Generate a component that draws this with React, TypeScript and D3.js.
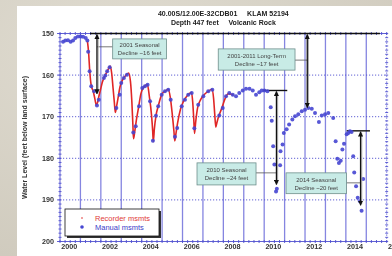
import * as d3 from "d3";
import { useEffect, useRef } from "react";

const titleLines = ["40.00S/12.00E-32CDB01     KLAM 52194", "Depth 447 feet     Volcanic Rock"];
const yAxisTitle = "Water Level (feet below land surface)";
const yearTicks = [2000, 2002, 2004, 2006, 2008, 2010, 2012, 2014, 2016];
const depthTicks = [150, 160, 170, 180, 190, 200];

// continuous recorder trace (year, feet below land surface)
const recorderSeries: [number, number][] = [
  [2001.34, 151.7], [2001.4, 154.5], [2001.46, 159.3], [2001.53, 162.5], [2001.62, 163.8], [2001.7, 165.5],
  [2001.78, 167.2], [2001.84, 166.6], [2001.9, 165.2], [2001.98, 163.6], [2002.08, 161.6], [2002.16, 160.6],
  [2002.26, 159.6], [2002.36, 158.6], [2002.46, 157.8], [2002.53, 159.5], [2002.6, 163.2], [2002.66, 166.5],
  [2002.71, 169.0], [2002.76, 167.8], [2002.84, 165.6], [2002.94, 162.8], [2003.06, 161.2], [2003.2, 160.2],
  [2003.36, 159.5], [2003.45, 161.5], [2003.52, 166.5], [2003.57, 172.0], [2003.6, 175.3], [2003.66, 173.6],
  [2003.74, 170.8], [2003.84, 168.0], [2003.96, 164.5], [2004.1, 162.9], [2004.28, 162.3], [2004.38, 165.3],
  [2004.48, 169.5], [2004.54, 173.5], [2004.57, 176.0], [2004.62, 173.0], [2004.7, 169.8], [2004.82, 167.3],
  [2004.98, 164.7], [2005.14, 163.9], [2005.3, 163.4], [2005.4, 165.3], [2005.5, 169.5], [2005.58, 173.5],
  [2005.62, 175.8], [2005.68, 174.0], [2005.76, 171.5], [2005.9, 168.2], [2006.06, 166.2], [2006.24, 164.9],
  [2006.44, 164.2], [2006.5, 166.5], [2006.55, 170.5], [2006.59, 174.0], [2006.64, 171.5], [2006.74, 167.8],
  [2006.9, 165.8], [2007.08, 164.6], [2007.26, 163.9], [2007.44, 163.4], [2007.52, 165.5], [2007.58, 169.5],
  [2007.63, 172.5], [2007.68, 171.5], [2007.78, 169.8], [2007.92, 168.0], [2008.08, 165.7], [2008.24, 164.5],
  [2008.4, 164.6], [2008.5, 164.9],
];

// periodic hand measurements
const manualSeries: [number, number][] = [
  [2000.15, 152.0], [2000.26, 151.7], [2000.39, 151.6], [2000.52, 152.0], [2000.64, 151.7], [2000.75, 151.1],
  [2000.88, 150.7], [2001.01, 150.7], [2001.13, 150.8], [2001.26, 151.1], [2001.34, 151.7],
  [2001.38, 154.4], [2001.45, 159.1], [2001.53, 162.7], [2001.67, 163.9], [2001.81, 167.3], [2001.9, 165.9],
  [2002.15, 160.7], [2002.22, 160.1], [2002.31, 159.1], [2002.43, 158.1], [2002.76, 167.9], [2002.92, 164.7],
  [2003.0, 161.9], [2003.13, 160.7], [2003.28, 159.9], [2003.59, 173.8], [2003.71, 172.3], [2003.87, 167.5],
  [2004.03, 163.1], [2004.16, 162.7], [2004.29, 162.3], [2004.41, 166.3], [2004.55, 175.8], [2004.7, 169.8],
  [2004.81, 167.5], [2004.98, 164.7], [2005.14, 163.9], [2005.3, 163.5], [2005.42, 165.9], [2005.63, 174.8],
  [2005.74, 172.7], [2005.96, 167.5], [2006.12, 165.9], [2006.28, 164.7], [2006.45, 164.3], [2006.58, 172.8],
  [2006.77, 167.1], [2007.02, 165.1], [2007.26, 163.9], [2007.46, 163.5], [2007.8, 169.7], [2007.97, 167.9],
  [2008.13, 165.1], [2008.29, 164.3], [2008.46, 164.7], [2008.62, 165.1], [2008.78, 164.3], [2008.95, 163.7],
  [2009.11, 163.3], [2009.28, 163.3], [2009.44, 163.7], [2009.6, 164.7], [2009.76, 164.1], [2009.88, 163.7],
  [2010.01, 163.7], [2010.16, 163.9], [2010.32, 167.7], [2010.37, 171.0], [2010.44, 177.1], [2010.5, 181.5],
  [2010.58, 188.0], [2010.62, 187.3], [2010.78, 181.7], [2010.8, 178.3], [2010.9, 176.7], [2010.96, 173.9],
  [2011.1, 173.0], [2011.22, 171.9], [2011.38, 170.7], [2011.51, 169.9], [2011.67, 169.4], [2011.84, 168.7],
  [2012.0, 168.3], [2012.16, 167.9], [2012.33, 168.1], [2012.49, 169.1], [2012.68, 171.3], [2012.82, 169.7],
  [2012.98, 169.4], [2013.14, 169.1], [2013.38, 170.3], [2013.5, 175.9], [2013.58, 180.1], [2013.66, 181.1],
  [2013.75, 180.6], [2013.83, 177.9], [2013.91, 176.5], [2014.04, 174.2], [2014.12, 173.9], [2014.2, 173.5],
  [2014.28, 173.7], [2014.36, 179.5], [2014.41, 183.4], [2014.5, 186.7], [2014.58, 189.5], [2014.69, 190.3],
  [2014.77, 192.6], [2014.85, 185.0],
];

const legendLabels = ["Recorder msmts", "Manual msmts"];

// reference levels the decline arrows start from
const baseLevels = [
  { from: 2001.47, to: 2015.67, ft: 150 },
  { from: 2009.94, to: 2011.13, ft: 163.7 },
  { from: 2014.04, to: 2015.18, ft: 173.4 },
];

const declineNotes = [
  { lines: ["2001 Seasonal", "Decline ~16 feet"], year: 2001.81, top: 150, bottom: 164.5, box: [2002.58, 151.3, 2005.22, 156.1], linkFt: 153.2 },
  { lines: ["2001-2011 Long-Term", "Decline ~17 feet"], year: 2012.11, top: 150, bottom: 167.8, box: [2007.75, 153.7, 2011.51, 158.8], linkFt: 156.4 },
  { lines: ["2010 Seasonal", "Decline ~24 feet"], year: 2010.6, top: 163.7, bottom: 186.3, box: [2006.71, 181.1, 2009.6, 186.4], linkFt: 183.5 },
  { lines: ["2014 Seasonal", "Decline ~20 feet"], year: 2014.72, top: 173.4, bottom: 191.3, box: [2011.07, 183.5, 2014.03, 188.5], linkFt: 185.9 },
];

export default function App() {
  const svgRef = useRef<SVGSVGElement>(null);

  useEffect(() => {
    const svg = d3.select(svgRef.current);
    svg.selectAll("*").remove();

    const width = 392;
    const height = 256;
    const left = 60;
    const right = 386.7;
    const top = 33.5;
    const bottom = 241.5;
    const font = "'Liberation Sans', Arial, sans-serif";
    const axisBlue = "#4f4fcf";

    const x = d3.scaleLinear().domain([2000, 2016]).range([left, right]);
    const y = d3.scaleLinear().domain([150, 200]).range([top, bottom]);

    svg.attr("viewBox", `0 0 ${width} ${height}`);

    const defs = svg.append("defs");
    const grad = defs.append("radialGradient").attr("id", "stone").attr("cx", "30%").attr("cy", "20%").attr("r", "90%");
    grad.append("stop").attr("offset", "0%").attr("stop-color", "#e0dcd1");
    grad.append("stop").attr("offset", "100%").attr("stop-color", "#cfcabd");
    defs
      .append("marker")
      .attr("id", "head")
      .attr("viewBox", "0 0 10 10")
      .attr("refX", 9)
      .attr("refY", 5)
      .attr("markerWidth", 4)
      .attr("markerHeight", 4)
      .attr("orient", "auto-start-reverse")
      .append("path")
      .attr("d", "M0,0 L10,5 L0,10 Z")
      .attr("fill", "#111");

    svg.append("rect").attr("width", width).attr("height", height).attr("fill", "url(#stone)");
    svg.append("rect").attr("x", 17).attr("y", 6).attr("width", width - 17).attr("height", height - 6).attr("fill", "#fff");

    // title
    svg
      .append("g")
      .selectAll("text")
      .data(titleLines)
      .join("text")
      .attr("x", (left + right) / 2)
      .attr("y", (_, i) => 16 + i * 9)
      .attr("text-anchor", "middle")
      .attr("font-family", font)
      .attr("font-size", 7)
      .attr("font-weight", "bold")
      .attr("fill", "#222")
      .style("white-space", "pre")
      .text((d) => d);

    // yearly vertical grid
    svg
      .append("g")
      .selectAll("line")
      .data(d3.range(2001, 2016))
      .join("line")
      .attr("x1", (d) => x(d))
      .attr("x2", (d) => x(d))
      .attr("y1", top)
      .attr("y2", bottom)
      .attr("stroke", "#8585e0")
      .attr("stroke-width", 1.3);

    // dotted horizontal grid
    svg
      .append("g")
      .selectAll("line")
      .data(depthTicks.slice(1, -1))
      .join("line")
      .attr("x1", left)
      .attr("x2", right)
      .attr("y1", (d) => y(d))
      .attr("y2", (d) => y(d))
      .attr("stroke", axisBlue)
      .attr("stroke-width", 0.9)
      .attr("stroke-dasharray", "1.2,1.8");

    // frame with minor ticks
    const frame = svg.append("g").attr("stroke", axisBlue).attr("stroke-width", 0.9);
    frame.append("line").attr("x1", left).attr("x2", left).attr("y1", top).attr("y2", bottom);
    frame.append("line").attr("x1", right).attr("x2", right).attr("y1", top).attr("y2", bottom).attr("stroke-dasharray", "1.2,1.8");
    frame.append("line").attr("x1", left).attr("x2", right).attr("y1", top).attr("y2", top);
    frame.append("line").attr("x1", left).attr("x2", right).attr("y1", bottom).attr("y2", bottom);
    const ftMinor = d3.range(150, 201, 1);
    [left, right].forEach((xp) => {
      frame
        .append("g")
        .selectAll("line")
        .data(ftMinor)
        .join("line")
        .attr("x1", xp - 1.5)
        .attr("x2", xp + 1.5)
        .attr("y1", (d) => y(d))
        .attr("y2", (d) => y(d));
    });
    const yearMinor = d3.range(2000, 2016.01, 0.25);
    [top, bottom].forEach((yp) => {
      frame
        .append("g")
        .selectAll("line")
        .data(yearMinor)
        .join("line")
        .attr("x1", (d) => x(d))
        .attr("x2", (d) => x(d))
        .attr("y1", yp - 1.5)
        .attr("y2", yp + 1.5);
    });
    frame
      .append("g")
      .selectAll("line")
      .data(depthTicks)
      .join("line")
      .attr("x1", left - 3)
      .attr("x2", left)
      .attr("y1", (d) => y(d))
      .attr("y2", (d) => y(d));

    // tick labels
    svg
      .append("g")
      .selectAll("text")
      .data(depthTicks)
      .join("text")
      .attr("x", left - 6)
      .attr("y", (d) => y(d) + 2.5)
      .attr("text-anchor", "end")
      .attr("font-family", font)
      .attr("font-size", 7.2)
      .attr("font-weight", "bold")
      .attr("fill", "#333")
      .text((d) => d);
    svg
      .append("g")
      .selectAll("text")
      .data(yearTicks)
      .join("text")
      .attr("x", (d) => x(d + 0.45))
      .attr("y", 249)
      .attr("text-anchor", "middle")
      .attr("font-family", font)
      .attr("font-size", 7.2)
      .attr("font-weight", "bold")
      .attr("fill", "#333")
      .text((d) => d);
    svg
      .append("text")
      .attr("transform", `translate(27, ${(top + bottom) / 2}) rotate(-90)`)
      .attr("text-anchor", "middle")
      .attr("font-family", font)
      .attr("font-size", 7)
      .attr("font-weight", "bold")
      .attr("fill", "#333")
      .text(yAxisTitle);

    // reference levels
    svg
      .append("g")
      .selectAll("line")
      .data(baseLevels)
      .join("line")
      .attr("x1", (d) => x(d.from))
      .attr("x2", (d) => x(d.to))
      .attr("y1", (d) => y(d.ft))
      .attr("y2", (d) => y(d.ft))
      .attr("stroke", "#111")
      .attr("stroke-width", 1.4);

    // data
    const line = d3
      .line<[number, number]>()
      .x((d) => x(d[0]))
      .y((d) => y(d[1]))
      .curve(d3.curveMonotoneX);
    svg
      .append("path")
      .datum(recorderSeries)
      .attr("d", line)
      .attr("fill", "none")
      .attr("stroke", "#e02626")
      .attr("stroke-width", 1.6);
    svg
      .append("g")
      .selectAll("circle")
      .data(manualSeries)
      .join("circle")
      .attr("cx", (d) => x(d[0]))
      .attr("cy", (d) => y(d[1]))
      .attr("r", 2)
      .attr("fill", "#4646d2")
      .attr("fill-opacity", 0.9);

    // decline annotations
    const notes = svg.append("g");
    declineNotes.forEach((n) => {
      const [bx0, by0, bx1, by1] = n.box;
      const boxRight = x(bx1) < x(n.year);
      notes
        .append("line")
        .attr("x1", boxRight ? x(bx1) : x(bx0))
        .attr("x2", x(n.year))
        .attr("y1", y(n.linkFt))
        .attr("y2", y(n.linkFt))
        .attr("stroke", "#555")
        .attr("stroke-width", 0.8);
      notes
        .append("line")
        .attr("x1", x(n.year) + 1.2)
        .attr("x2", x(n.year) + 1.2)
        .attr("y1", y(n.top) + 2)
        .attr("y2", y(n.bottom) - 1)
        .attr("stroke", "#aaa")
        .attr("stroke-width", 1);
      notes
        .append("line")
        .attr("x1", x(n.year))
        .attr("x2", x(n.year))
        .attr("y1", y(n.top) + 1)
        .attr("y2", y(n.bottom))
        .attr("stroke", "#111")
        .attr("stroke-width", 1.3)
        .attr("marker-start", "url(#head)")
        .attr("marker-end", "url(#head)");
      notes
        .append("rect")
        .attr("x", x(bx0))
        .attr("y", y(by0))
        .attr("width", x(bx1) - x(bx0))
        .attr("height", y(by1) - y(by0))
        .attr("fill", "#c8ebe6")
        .attr("stroke", "#6f8f8c")
        .attr("stroke-width", 0.8);
      notes
        .append("g")
        .selectAll("text")
        .data(n.lines)
        .join("text")
        .attr("x", (x(bx0) + x(bx1)) / 2)
        .attr("y", (_, i) => (y(by0) + y(by1)) / 2 - 1.5 + i * 8)
        .attr("text-anchor", "middle")
        .attr("font-family", font)
        .attr("font-size", 6)
        .attr("fill", "#444")
        .text((d) => d);
    });

    // legend
    const legend = svg.append("g").attr("transform", "translate(65, 209)");
    legend.append("rect").attr("x", 2).attr("y", 2).attr("width", 94).attr("height", 27).attr("fill", "#333");
    legend.append("rect").attr("width", 94).attr("height", 27).attr("fill", "#fff").attr("stroke", "#111").attr("stroke-width", 0.8);
    legendLabels.forEach((label, i) => {
      const recorder = i === 0;
      legend
        .append("circle")
        .attr("cx", 17)
        .attr("cy", 9 + i * 9)
        .attr("r", recorder ? 0.8 : 1.8)
        .attr("fill", recorder ? "#e02626" : "#4646d2");
      legend
        .append("text")
        .attr("x", 30)
        .attr("y", 11.7 + i * 9)
        .attr("font-family", font)
        .attr("font-size", 7.5)
        .attr("fill", recorder ? "#e03a3a" : "#3c3cc8")
        .text(label);
    });
  }, []);

  return (
    <svg
      ref={svgRef}
      width={392}
      height={256}
      style={{ position: "fixed", left: 0, top: 0, display: "block" }}
    />
  );
}
